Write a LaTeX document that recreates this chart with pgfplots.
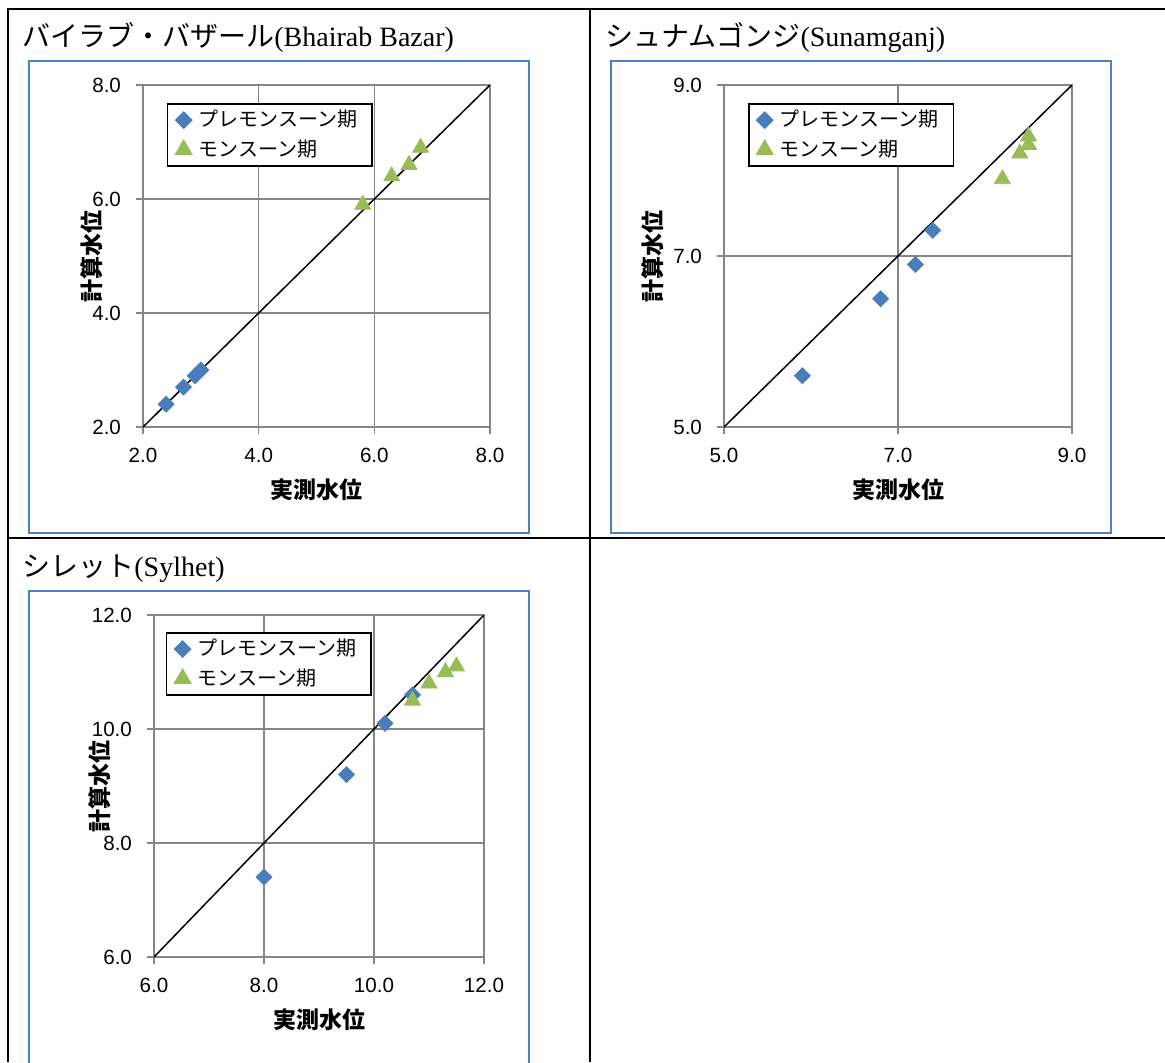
\documentclass[border=0pt]{standalone}
\usepackage{fontspec}
\usepackage{pgfplots}
\pgfplotsset{compat=1.18}
\setmainfont{Liberation Serif}
\newfontfamily\jp{Noto Sans CJK JP}
\newfontfamily\tickfont{Liberation Sans}
\definecolor{gridgray}{RGB}{134,134,134}
\definecolor{xblue}{RGB}{74,126,187}
\definecolor{xgreen}{RGB}{155,187,89}
\definecolor{frameblue}{RGB}{79,129,189}
\pgfplotsset{
  panel/.style={
    scale only axis, height=171pt,
    grid=major,
    major grid style={draw=gridgray, line width=0.75pt},
    axis line style={draw=gridgray, line width=0.75pt},
    tick style={draw=gridgray, line width=0.75pt},
    tick align=outside, major tick length=3.5pt,
    tick pos=left,
    ticklabel style={font=\tickfont\fontsize{10.3}{11}\selectfont, text=black},
    xticklabel style={yshift=-3.5pt},
    yticklabel style={xshift=-4pt},
    xlabel={実測水位}, ylabel={計算水位},
    label style={font=\jp\bfseries\fontsize{11.5}{13}\selectfont},
    xlabel style={at={(axis description cs:0.5,-0.184)}, anchor=center},
    legend cell align=left,
    legend style={anchor=north west, draw=black, line width=0.75pt,
      font=\jp\fontsize{10}{11}\selectfont, inner xsep=4pt, inner ysep=1.2pt,
      row sep=1pt, nodes={inner xsep=3.5pt}},
  },
  pre/.style={only marks, mark=square*, mark size=2.8pt,
    mark options={rotate=45, fill=xblue, draw=xblue}, color=xblue},
  mon/.style={only marks, mark=triangle*, mark size=4.6pt,
    mark options={fill=xgreen, draw=xgreen}, color=xgreen},
}
\begin{document}
\begin{tikzpicture}
\useasboundingbox (0,0) rectangle (582.5pt,-531pt);
\begin{scope}
\clip (0,0) rectangle (582.5pt,-531pt);
% table lines
\draw[line width=1pt] (4pt,-531pt) -- (4pt,-4.25pt) -- (582.5pt,-4.25pt);
\draw[line width=1pt] (295pt,-4.25pt) -- (295pt,-531pt);
\draw[line width=1pt] (4pt,-269pt) -- (582.5pt,-269pt);
% chart frames
\draw[frameblue, line width=0.9pt] (14.5pt,-30.5pt) rectangle (264.5pt,-266.5pt);
\draw[frameblue, line width=0.9pt] (305.5pt,-30.5pt) rectangle (555.5pt,-266.5pt);
\draw[frameblue, line width=0.9pt] (14.5pt,-295.5pt) rectangle (264.5pt,-545pt);
\end{scope}
% titles
\node[anchor=base west, inner sep=0pt, font=\fontsize{14}{16}\selectfont] at (11pt,-23pt) {{\jp バイラブ・バザール}(Bhairab Bazar)};
\node[anchor=base west, inner sep=0pt, font=\fontsize{14}{16}\selectfont] at (302.5pt,-23pt) {{\jp シュナムゴンジ}(Sunamganj)};
\node[anchor=base west, inner sep=0pt, font=\fontsize{14}{16}\selectfont] at (11pt,-288pt) {{\jp シレット}(Sylhet)};

% Panel 1
\begin{axis}[panel, at={(71.5pt,-213.5pt)}, anchor=south west, width=173.5pt,
  xmin=2, xmax=8, ymin=2, ymax=8,
  xtick={2,4,6,8}, xticklabels={2.0,4.0,6.0,8.0},
  ytick={2,4,6,8}, yticklabels={2.0,4.0,6.0,8.0},
  ylabel style={at={(axis description cs:-0.147,0.5)}, anchor=center},
  legend style={at={(0.069,0.947)}}]
\addplot[pre] coordinates {(2.4,2.4) (2.7,2.7) (2.9,2.9) (3.0,3.0)};
\addlegendentry{プレモンスーン期}
\addplot[mon] coordinates {(5.8,5.9) (6.3,6.4) (6.6,6.6) (6.8,6.9)};
\addlegendentry{モンスーン期}
\addplot[black, line width=0.75pt, forget plot] coordinates {(2,2) (8,8)};
\end{axis}

% Panel 2
\begin{axis}[panel, at={(362pt,-213.5pt)}, anchor=south west, width=174pt,
  xmin=5, xmax=9, ymin=5, ymax=9,
  xtick={5,7,9}, xticklabels={5.0,7.0,9.0},
  ytick={5,7,9}, yticklabels={5.0,7.0,9.0},
  ylabel style={at={(axis description cs:-0.204,0.5)}, anchor=center},
  legend style={at={(0.069,0.947)}}]
\addplot[pre] coordinates {(5.9,5.6) (6.8,6.5) (7.2,6.9) (7.4,7.3)};
\addlegendentry{プレモンスーン期}
\addplot[mon] coordinates {(8.2,7.9) (8.4,8.2) (8.5,8.3) (8.5,8.4)};
\addlegendentry{モンスーン期}
\addplot[black, line width=0.75pt, forget plot] coordinates {(5,5) (9,9)};
\end{axis}

% Panel 3
\begin{axis}[panel, at={(77pt,-478.5pt)}, anchor=south west, width=165pt,
  xmin=6, xmax=12, ymin=6, ymax=12,
  xtick={6,8,10,12}, xticklabels={6.0,8.0,10.0,12.0},
  ytick={6,8,10,12}, yticklabels={6.0,8.0,10.0,12.0},
  ylabel style={at={(axis description cs:-0.164,0.5)}, anchor=center},
  legend style={at={(0.036,0.95)}}]
\addplot[pre] coordinates {(8.0,7.4) (9.5,9.2) (10.2,10.1) (10.7,10.6)};
\addlegendentry{プレモンスーン期}
\addplot[mon] coordinates {(10.7,10.5) (11.0,10.8) (11.3,11.0) (11.5,11.1)};
\addlegendentry{モンスーン期}
\addplot[black, line width=0.75pt, forget plot] coordinates {(6,6) (12,12)};
\end{axis}
\end{tikzpicture}
\end{document}
